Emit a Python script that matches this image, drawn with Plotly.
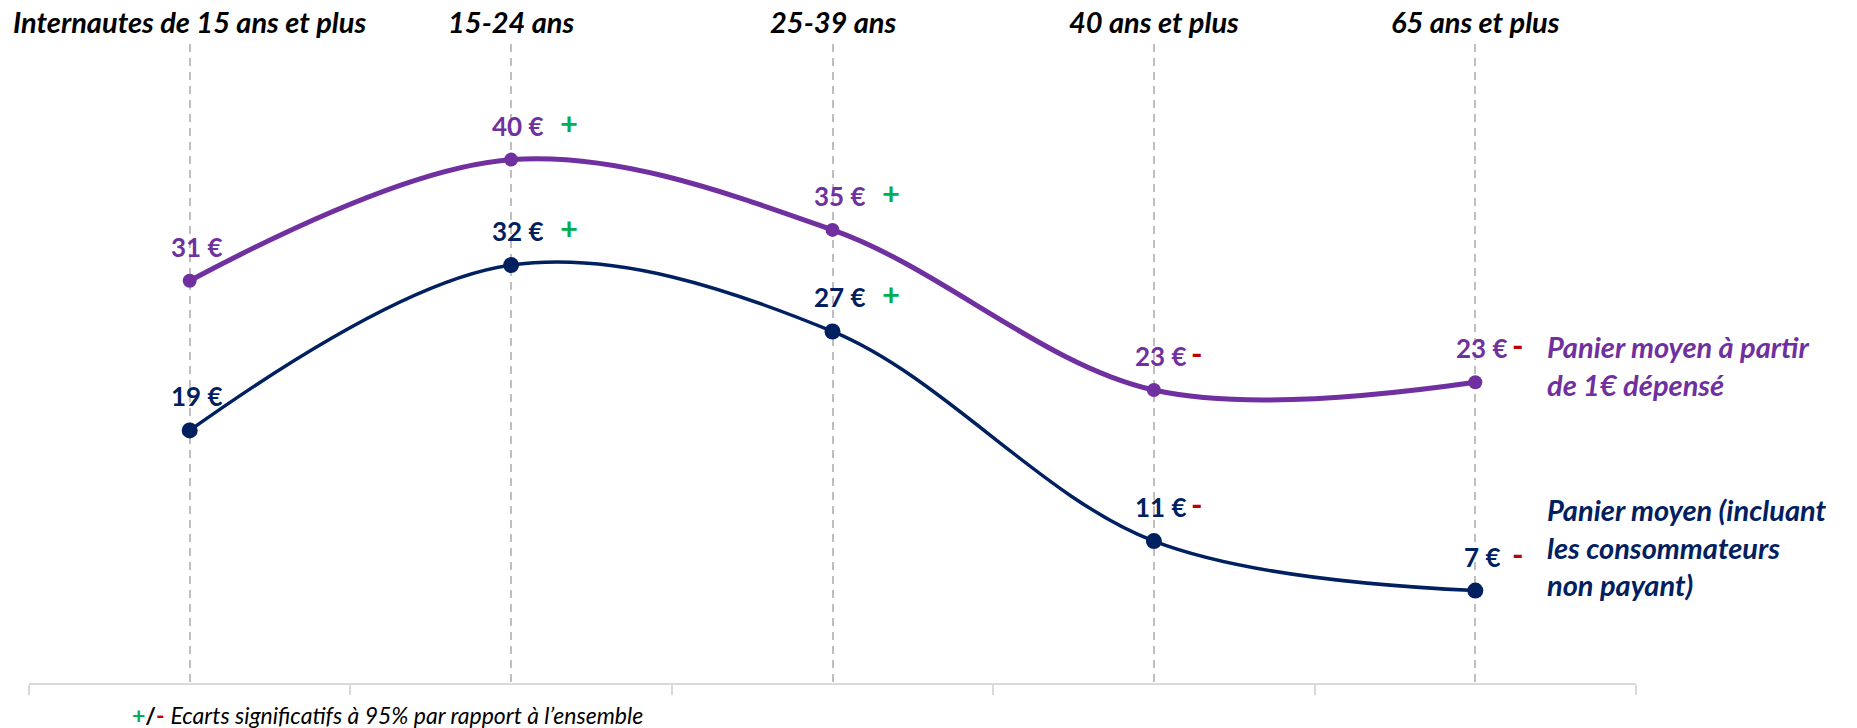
import plotly.graph_objects as go

categories = ["Internautes de 15 ans et plus", "15-24 ans", "25-39 ans", "40 ans et plus", "65 ans et plus"]
panier_payant = [30.9, 40.2, 34.8, 22.5, 23.1]
panier_payant_labels = ["31 €", "40 €", "35 €", "23 €", "23 €"]
panier_global = [19.4, 32.1, 27.0, 10.9, 7.1]
panier_global_labels = ["19 €", "32 €", "27 €", "11 €", "7 €"]
signif_payant = ["", "+", "+", "-", "-"]
signif_global = ["", "+", "+", "-", "-"]
series_names = ["Panier moyen à partir<br>de 1€ dépensé", "Panier moyen (incluant<br>les consommateurs<br>non payant)"]
note_text = "Ecarts significatifs à 95% par rapport à l’ensemble"

PURPLE = "#7030A0"
NAVY = "#002060"
GREEN = "#00B050"
RED = "#C00000"
FONT = "Lato"

xs = list(range(len(categories)))

fig = go.Figure()
fig.add_trace(go.Scatter(x=xs, y=panier_payant, mode="lines+markers",
                         line=dict(color=PURPLE, width=5, shape="spline", smoothing=1),
                         marker=dict(color=PURPLE, size=14), showlegend=False, hoverinfo="skip"))
fig.add_trace(go.Scatter(x=xs, y=panier_global, mode="lines+markers",
                         line=dict(color=NAVY, width=3.5, shape="spline", smoothing=1),
                         marker=dict(color=NAVY, size=16), showlegend=False, hoverinfo="skip"))

ann = []
for vals, labels, signs, col in [(panier_payant, panier_payant_labels, signif_payant, PURPLE),
                                 (panier_global, panier_global_labels, signif_global, NAVY)]:
    for i, (v, lab, s) in enumerate(zip(vals, labels, signs)):
        ann.append(dict(x=i, y=v, xref="x", yref="y", text="<b>%s</b>" % lab, showarrow=False,
                        xshift=7, yshift=34, font=dict(family=FONT, size=26, color=col)))
        if s:
            ann.append(dict(x=i, y=v, xref="x", yref="y", text="<b>%s</b>" % s, showarrow=False,
                            xshift=58 if s == "+" else 43, yshift=37,
                            font=dict(family=FONT, size=31, color=GREEN if s == "+" else RED)))

for i, c in enumerate(categories):
    ann.append(dict(x=i, y=1, xref="x", yref="paper", yanchor="bottom", yshift=3,
                    text="<b><i>%s</i></b>" % c, showarrow=False,
                    font=dict(family=FONT, size=29, color="black")))

ann.append(dict(x=4, y=panier_payant[-1], xref="x", yref="y", xanchor="left", yanchor="middle",
                xshift=70, yshift=17, align="left", text="<b><i>%s</i></b>" % series_names[0],
                showarrow=False, font=dict(family=FONT, size=29, color=PURPLE)))
ann.append(dict(x=4, y=panier_global[-1], xref="x", yref="y", xanchor="left", yanchor="middle",
                xshift=70, yshift=44, align="left", text="<b><i>%s</i></b>" % series_names[1],
                showarrow=False, font=dict(family=FONT, size=29, color=NAVY)))

ann.append(dict(x=(130 - 29) / 1607, y=-(715 - 683) / 639, xref="paper", yref="paper",
                xanchor="left", yanchor="middle",
                text="<b><span style='color:%s'>+</span>/<span style='color:%s'>-</span></b> <i>%s</i>" % (GREEN, RED, note_text),
                showarrow=False, font=dict(family=FONT, size=23, color="black")))

fig.update_layout(
    width=1857, height=728,
    margin=dict(l=29, r=221, t=44, b=45),
    paper_bgcolor="white", plot_bgcolor="white",
    annotations=ann,
    xaxis=dict(range=[-0.5, 4.5], tickvals=xs, ticktext=[""] * len(xs), ticks="",
               showgrid=True, gridcolor="#BFBFBF", gridwidth=1.5, griddash="8px,6px",
               showline=True, linecolor="#D9D9D9", linewidth=2, zeroline=False,
               minor=dict(tick0=-0.5, dtick=1, ticks="outside", ticklen=10, tickcolor="#D9D9D9",
                          tickwidth=1.5, showgrid=False)),
    yaxis=dict(range=[0, 49.08], visible=False, showgrid=False, zeroline=False),
)

fig.write_html("out.html")
